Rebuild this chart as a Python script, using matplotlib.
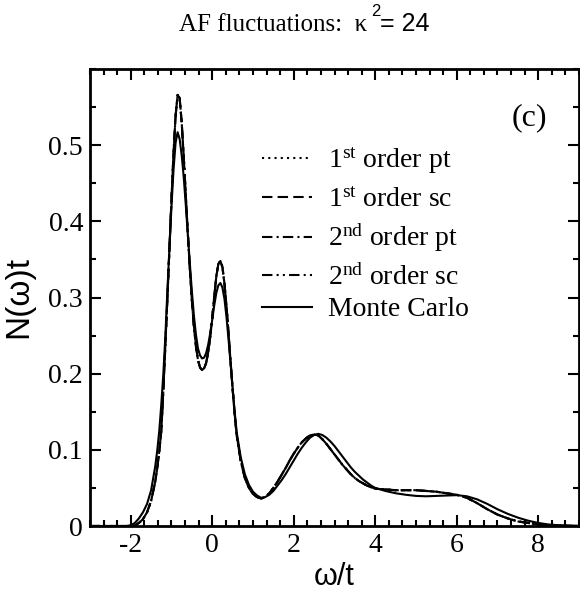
import matplotlib
matplotlib.use("Agg")
import matplotlib.pyplot as plt
from matplotlib.ticker import MultipleLocator
from matplotlib.lines import Line2D

plt.rcParams['mathtext.fontset'] = 'custom'
plt.rcParams['mathtext.rm'] = 'Liberation Serif'
plt.rcParams['mathtext.it'] = 'Liberation Serif:italic'
plt.rcParams['axes.unicode_minus'] = False

SERIF = 'Liberation Serif'
SANS = 'Liberation Sans'

omega = [-3.0, -2.5, -2.1, -2.0, -1.9, -1.8, -1.7, -1.6, -1.5, -1.4, -1.35,
         -1.3, -1.25, -1.2, -1.15, -1.1, -1.05, -1.0, -0.95, -0.9, -0.85, -0.8, -0.75,
         -0.7, -0.65, -0.6, -0.55, -0.5, -0.45, -0.4, -0.35, -0.3, -0.25, -0.2, -0.15,
         -0.1, -0.05, 0.0, 0.05, 0.1, 0.15, 0.2, 0.25, 0.3, 0.35, 0.4, 0.45, 0.5, 0.55, 0.6,
         0.7, 0.8, 0.9,
         1.0, 1.1, 1.2, 1.3, 1.4, 1.5, 1.6, 1.7, 1.8, 1.9, 2.0, 2.1, 2.2, 2.3, 2.4, 2.5,
         2.6, 2.7, 2.8, 2.9, 3.0, 3.1, 3.2, 3.3, 3.4, 3.5, 3.6, 3.7, 3.8, 3.9, 4.0,
         4.25, 4.5, 4.75, 5.0, 5.25, 5.5, 5.75, 6.0, 6.25, 6.5, 6.75, 7.0, 7.25, 7.5,
         7.75, 8.0, 8.25, 8.5, 8.75, 9.0]

monte_carlo = [0.0, 0.0, 0.0, 0.001, 0.004, 0.010, 0.018, 0.029, 0.047, 0.078, 0.099,
               0.125, 0.16, 0.20, 0.25, 0.31, 0.365, 0.42, 0.468, 0.503, 0.517, 0.508, 0.487,
               0.458, 0.422, 0.383, 0.345, 0.308, 0.276, 0.251, 0.233, 0.224, 0.220, 0.221, 0.227,
               0.238, 0.253, 0.271, 0.290, 0.306, 0.316, 0.319, 0.313, 0.298, 0.274, 0.245, 0.213,
               0.181, 0.150, 0.123,
               0.090, 0.068, 0.054,
               0.045, 0.040, 0.037, 0.038, 0.041, 0.046, 0.053, 0.060, 0.068, 0.077, 0.086, 0.095,
               0.103, 0.110, 0.116, 0.1195, 0.121, 0.1195, 0.116, 0.111, 0.105, 0.098, 0.091, 0.084,
               0.077, 0.071, 0.066, 0.061, 0.057, 0.053, 0.050,
               0.046, 0.043, 0.041, 0.0395, 0.039, 0.0395, 0.040, 0.0405, 0.039, 0.035, 0.029,
               0.022, 0.016, 0.011, 0.007, 0.004, 0.002, 0.001, 0.0005, 0.0]

first_sc = [0.0, 0.0, 0.0, 0.0, 0.001, 0.004, 0.009, 0.018, 0.033, 0.058, 0.076,
            0.098, 0.125, 0.178, 0.238, 0.30, 0.365, 0.43, 0.49, 0.538, 0.566, 0.562, 0.53,
            0.485, 0.435, 0.385, 0.338, 0.296, 0.262, 0.236, 0.218, 0.208, 0.205, 0.207, 0.214,
            0.228, 0.248, 0.273, 0.302, 0.328, 0.344, 0.348, 0.340, 0.318, 0.288, 0.253, 0.216,
            0.180, 0.147, 0.119,
            0.085, 0.063, 0.050,
            0.042, 0.038, 0.036, 0.038, 0.043, 0.050, 0.058, 0.067, 0.076, 0.086, 0.095, 0.103,
            0.110, 0.115, 0.119, 0.120, 0.119, 0.114, 0.108, 0.101, 0.094, 0.087, 0.080, 0.074,
            0.068, 0.063, 0.059, 0.056, 0.053, 0.051, 0.049,
            0.048, 0.047, 0.047, 0.047, 0.046, 0.045, 0.043, 0.041, 0.037, 0.030, 0.022,
            0.015, 0.010, 0.006, 0.004, 0.002, 0.001, 0.0005, 0.0002, 0.0]

first_pt = list(first_sc)
second_pt = list(first_sc)
second_sc = list(first_sc)

labels = ['1$^{\\mathrm{st}}$ order pt', '1$^{\\mathrm{st}}$ order sc',
          '2$^{\\mathrm{nd}}$ order pt', '2$^{\\mathrm{nd}}$ order sc', 'Monte Carlo']
series = [first_pt, first_sc, second_pt, second_sc, monte_carlo]
styles = [(0, (1, 2)), (0, (5, 2.5)), (0, (5, 2, 1, 2)), (0, (5, 2, 1, 2, 1, 2)), '-']

W, H = 580, 595
L, R, T, B = 90, 579, 69, 526
fig = plt.figure(figsize=(W / 100, H / 100), dpi=100)
ax = fig.add_axes([L / W, 1 - B / H, (R - L) / W, (B - T) / H])

for y, ls in zip(series, styles):
    ax.plot(omega, y, color='black', lw=1.5, linestyle=ls)

ax.set_xlim(-3, 9)
ax.set_ylim(0, 0.6)
ax.set_xticks([-2, 0, 2, 4, 6, 8])
ax.set_xticklabels(['-2', '0', '2', '4', '6', '8'])
ax.set_yticks([0, 0.1, 0.2, 0.3, 0.4, 0.5])
ax.set_yticklabels(['0', '0.1', '0.2', '0.3', '0.4', '0.5'])
ax.xaxis.set_minor_locator(MultipleLocator(1 / 3))
ax.yaxis.set_minor_locator(MultipleLocator(0.05))
ax.tick_params(which='both', direction='in', top=True, right=True, width=1.5)
ax.tick_params(which='major', length=8)
ax.tick_params(which='minor', length=4)
for lab in ax.get_xticklabels() + ax.get_yticklabels():
    lab.set_fontfamily(SERIF)
    lab.set_fontsize(20)
ax.tick_params(axis='x', pad=5)
ax.tick_params(axis='y', pad=5)
for sp in ax.spines.values():
    sp.set_linewidth(2)

ax.set_xlabel('ω/t', fontfamily=SANS, fontsize=22, labelpad=3)
ax.set_ylabel('N(ω)t', fontfamily=SANS, fontsize=24, labelpad=10)

def ax_xy(px, py):
    return (px - L) / (R - L), (B - py) / (B - T)

cx, cy = ax_xy(529, 118)
ax.text(cx, cy, '(c)', transform=ax.transAxes, fontfamily=SERIF, fontsize=23,
        ha='center', va='center')

# legend
row_y = [158, 197, 236.5, 275, 306.5]
for lab, ls, py in zip(labels, styles, row_y):
    x0, y0 = ax_xy(262, py)
    x1, _ = ax_xy(312, py)
    ax.add_line(Line2D([x0, x1], [y0, y0], transform=ax.transAxes, color='black',
                       lw=1.5, linestyle=ls))
    tx, ty = ax_xy(328, py + 10)
    ax.text(tx, ty, lab, transform=ax.transAxes, fontfamily=SERIF, fontsize=20,
            ha='left', va='baseline')

fig.text(367 / W, 1 - 31 / H, 'AF fluctuations:  κ', fontfamily=SERIF, fontsize=18,
         ha='right', va='baseline')
fig.text(371 / W, 1 - 16 / H, '2', fontfamily=SANS, fontsize=12, ha='left', va='baseline')
fig.text(380 / W, 1 - 31 / H, '= 24', fontfamily=SANS, fontsize=18, ha='left', va='baseline')

fig.savefig('out.png', dpi=100)
